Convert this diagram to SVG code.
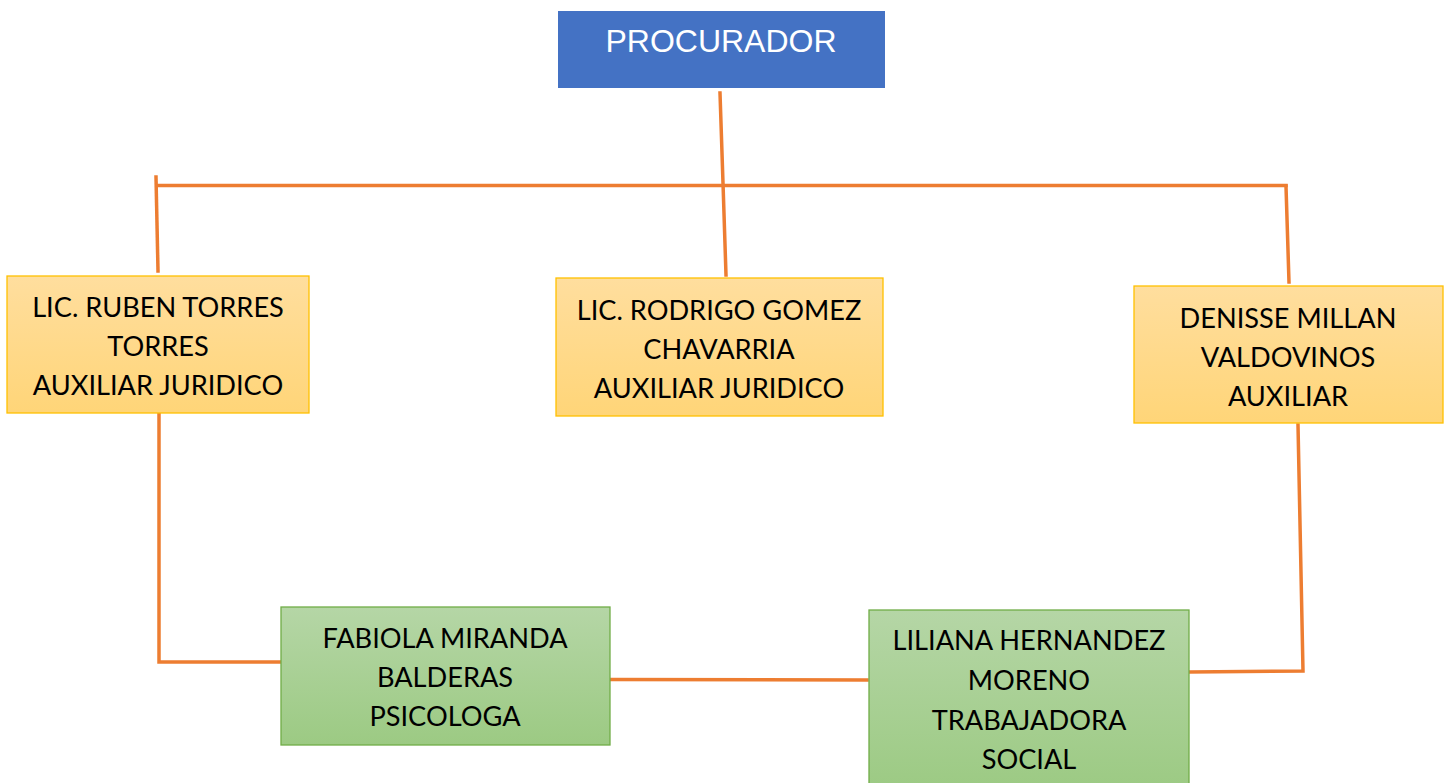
<svg xmlns="http://www.w3.org/2000/svg" width="1449" height="783" viewBox="0 0 1449 783">
<style>
.conn{stroke:#ED7D31;stroke-width:3.5;fill:none;stroke-linecap:square}
.org{fill:url(#go);stroke:#FFC000;stroke-width:1.3}
.grn{fill:url(#gg);stroke:#70AD47;stroke-width:1.3}
.t{font-family:Lato,"Open Sans","Liberation Sans",sans-serif;font-size:27.2px;fill:#000;text-anchor:middle}
.tw{font-family:"Liberation Sans",Arial,sans-serif;font-size:32px;fill:#fff;text-anchor:middle}
</style>
<defs>
<linearGradient id="go" x1="0" y1="0" x2="0" y2="1">
<stop offset="0" stop-color="#FFDE9E"/>
<stop offset="1" stop-color="#FFD578"/>
</linearGradient>
<linearGradient id="gg" x1="0" y1="0" x2="0" y2="1">
<stop offset="0" stop-color="#B5D6A6"/>
<stop offset="1" stop-color="#9CCA83"/>
</linearGradient>
</defs>
<rect width="1449" height="783" fill="#fff"/>
<g id="connectors">
<polyline class="conn" points="720,93 723,183 726,275"/>
<line class="conn" x1="158" y1="185.5" x2="1286" y2="185.5"/>
<line class="conn" x1="156" y1="177" x2="158" y2="271"/>
<line class="conn" x1="1286" y1="186" x2="1289" y2="282"/>
<polyline class="conn" points="159,414 159,662 282,662"/>
<line class="conn" x1="611" y1="679.5" x2="867" y2="680"/>
<polyline class="conn" points="1190,672 1303,671 1298,425"/>
</g>
<g id="procurador">
<rect x="558" y="11" width="327" height="77" fill="#4472C4"/>
<text class="tw" x="721" y="52">PROCURADOR</text>
</g>
<g id="ruben">
<rect class="org" x="7" y="276" width="302" height="137"/>
<text class="t" x="158" y="317">LIC. RUBEN TORRES</text>
<text class="t" x="158" y="356">TORRES</text>
<text class="t" x="158" y="395">AUXILIAR JURIDICO</text>
</g>
<g id="rodrigo">
<rect class="org" x="556" y="278" width="327" height="138"/>
<text class="t" x="719" y="320">LIC. RODRIGO GOMEZ</text>
<text class="t" x="719" y="359">CHAVARRIA</text>
<text class="t" x="719" y="398">AUXILIAR JURIDICO</text>
</g>
<g id="denisse">
<rect class="org" x="1134" y="286" width="309" height="137"/>
<text class="t" x="1288" y="328">DENISSE MILLAN</text>
<text class="t" x="1288" y="367">VALDOVINOS</text>
<text class="t" x="1288" y="406">AUXILIAR</text>
</g>
<g id="fabiola">
<rect class="grn" x="281" y="607" width="329" height="138"/>
<text class="t" x="445" y="648">FABIOLA MIRANDA</text>
<text class="t" x="445" y="687">BALDERAS</text>
<text class="t" x="445" y="726">PSICOLOGA</text>
</g>
<g id="liliana">
<rect class="grn" x="869" y="610" width="320" height="180"/>
<text class="t" x="1029" y="650">LILIANA HERNANDEZ</text>
<text class="t" x="1029" y="690">MORENO</text>
<text class="t" x="1029" y="730">TRABAJADORA</text>
<text class="t" x="1029" y="769">SOCIAL</text>
</g>
</svg>
